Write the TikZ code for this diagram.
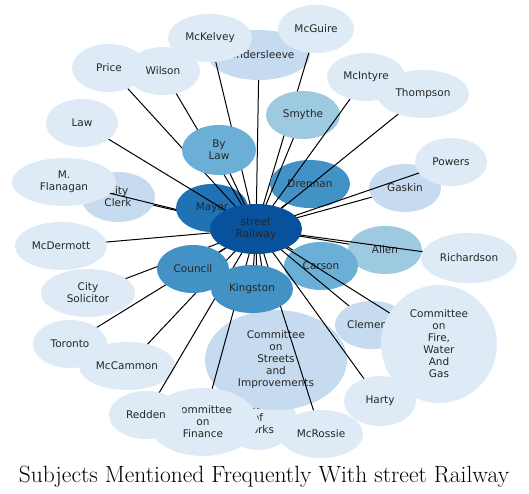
\documentclass[tikz,border=0pt]{standalone}
\usepackage{fontspec}
\newfontfamily\dejavu{DejaVu Sans}
\usetikzlibrary{shapes.geometric}
\definecolor{blueA}{RGB}{222,235,247}
\definecolor{blueB}{RGB}{198,219,239}
\definecolor{blueC}{RGB}{158,202,225}
\definecolor{blueD}{RGB}{107,174,214}
\definecolor{blueE}{RGB}{66,146,198}
\definecolor{blueF}{RGB}{33,113,181}
\definecolor{blueG}{RGB}{8,81,156}

\begin{document}
\begin{tikzpicture}[x=1pt,y=-1pt,
subject/.style={ellipse,inner sep=0pt,align=center,
  minimum width=74pt,minimum height=48pt,text=black!85,
  font=\dejavu\fontsize{10.5}{12}\selectfont},
link/.style={line width=1pt}
]
\useasboundingbox (0,0) rectangle (529,494);
\coordinate (sr) at (256,229);
\coordinate (clerk) at (118,197);
\coordinate (flan) at (64,182);
\coordinate (mcd) at (61,246);
\coordinate (mayor) at (212,208);
\coordinate (vand) at (259,55);
\coordinate (mck) at (210,38);
\coordinate (mcg) at (316,29);
\coordinate (price) at (109,68);
\coordinate (wilson) at (163,71);
\coordinate (law) at (82,123);
\coordinate (bylaw) at (219,150);
\coordinate (dren) at (310,184);
\coordinate (smythe) at (303,115);
\coordinate (mcint) at (366,77);
\coordinate (thomp) at (423,94);
\coordinate (gaskin) at (405,188);
\coordinate (powers) at (451,162);
\coordinate (allen) at (385,250);
\coordinate (rich) at (469,258);
\coordinate (solic) at (88,293);
\coordinate (tor) at (70,344);
\coordinate (mccam) at (127,366);
\coordinate (works) at (258,418);
\coordinate (streets) at (276,360);
\coordinate (fin) at (203,422);
\coordinate (redden) at (146,415);
\coordinate (mcross) at (321,434);
\coordinate (council) at (193,269);
\coordinate (king) at (252,289);
\coordinate (carson) at (321,266);
\coordinate (clem) at (372,325);
\coordinate (fire) at (439,344);
\coordinate (harty) at (380,401);

\draw[link] (sr) -- (clerk);
\node[subject,fill=blueB,minimum height=50pt] (Clerk) at (clerk) {City\\Clerk};
\draw[link] (sr) -- (flan);
\node[subject,fill=blueA,minimum width=104pt] (Flan) at (flan) {M.\\Flanagan};
\draw[link] (sr) -- (mcd);
\node[subject,fill=blueA,minimum width=92pt] (McD) at (mcd) {McDermott};
\draw[link] (sr) -- (mayor);
\node[subject,fill=blueF,minimum width=72pt] (Mayor) at (mayor) {Mayor};
\draw[link] (sr) -- (vand);
\node[subject,fill=blueB,minimum width=102pt,minimum height=50pt] (Vand) at (vand) {Vandersleeve};
\draw[link] (sr) -- (mck);
\node[subject,fill=blueA,minimum width=84pt] (McK) at (mck) {McKelvey};
\draw[link] (sr) -- (mcg);
\node[subject,fill=blueA,minimum width=76pt] (McG) at (mcg) {McGuire};
\draw[link] (sr) -- (price);
\node[subject,fill=blueA] (Price) at (price) {Price};
\draw[link] (sr) -- (wilson);
\node[subject,fill=blueA] (Wilson) at (wilson) {Wilson};
\draw[link] (sr) -- (law);
\node[subject,fill=blueA,minimum width=72pt] (Law) at (law) {Law};
\draw[link] (sr) -- (bylaw);
\node[subject,fill=blueD,minimum height=50pt] (ByLaw) at (bylaw) {By\\Law};
\draw[link] (sr) -- (dren);
\node[subject,fill=blueE,minimum width=80pt] (Dren) at (dren) {Drennan};
\draw[link] (sr) -- (smythe);
\node[subject,fill=blueC] (Smythe) at (smythe) {Smythe};
\draw[link] (sr) -- (mcint);
\node[subject,fill=blueA,minimum width=78pt] (McInt) at (mcint) {McIntyre};
\draw[link] (sr) -- (thomp);
\node[subject,fill=blueA,minimum width=92pt] (Thomp) at (thomp) {Thompson};
\draw[link] (sr) -- (gaskin);
\node[subject,fill=blueB,minimum width=72pt] (Gaskin) at (gaskin) {Gaskin};
\draw[link] (sr) -- (powers);
\node[subject,fill=blueA,minimum width=72pt] (Powers) at (powers) {Powers};
\draw[link] (sr) -- (allen);
\node[subject,fill=blueC] (Allen) at (allen) {Allen};
\draw[link] (sr) -- (rich);
\node[subject,fill=blueA,minimum width=96pt,minimum height=50pt] (Rich) at (rich) {Richardson};
\draw[link] (sr) -- (solic);
\node[subject,fill=blueA,minimum width=94pt] (Solic) at (solic) {City\\Solicitor};
\draw[link] (sr) -- (tor);
\node[subject,fill=blueA] (Tor) at (tor) {Toronto};
\draw[link] (sr) -- (mccam);
\node[subject,fill=blueA,minimum width=96pt] (McCam) at (mccam) {McCammon};
\draw[link] (sr) -- (works);
\node[subject,fill=blueA,minimum width=76pt,minimum height=64pt] (Works) at (works) {Board\\of\\Works};
\draw[link] (sr) -- (streets);
\node[subject,fill=blueB,minimum width=142pt,minimum height=100pt] (Streets) at (streets) {Committee\\on\\Streets\\and\\Improvements};
\draw[link] (sr) -- (fin);
\node[subject,fill=blueA,minimum width=110pt,minimum height=68pt] (Fin) at (fin) {Committee\\on\\Finance};
\draw[link] (sr) -- (redden);
\node[subject,fill=blueA] (Redden) at (redden) {Redden};
\draw[link] (sr) -- (mcross);
\node[subject,fill=blueA,minimum width=84pt] (McRoss) at (mcross) {McRossie};
\draw[link] (sr) -- (council);
\node[subject,fill=blueE,minimum width=72pt] (Council) at (council) {Council};
\draw[link] (sr) -- (king);
\node[subject,fill=blueE,minimum width=82pt] (King) at (king) {Kingston};
\draw[link] (sr) -- (carson);
\node[subject,fill=blueD] (Carson) at (carson) {Carson};
\draw[link] (sr) -- (clem);
\node[subject,fill=blueB] (Clem) at (clem) {Clements};
\draw[link] (sr) -- (fire);
\node[subject,fill=blueA,minimum width=116pt,minimum height=118pt] (Fire) at (fire) {Committee\\on\\Fire,\\Water\\And\\Gas};
\draw[link] (sr) -- (harty);
\node[subject,fill=blueA,minimum width=72pt,minimum height=50pt] (Harty) at (harty) {Harty};

\node[subject,fill=blueG,minimum width=92pt,minimum height=50pt] (SR) at (sr) {street\\Railway};

\node[anchor=base,inner sep=0pt,font=\fontsize{23.5}{26}\selectfont] (title) at (264,482) {Subjects Mentioned Frequently With street Railway};
\end{tikzpicture}
\end{document}
